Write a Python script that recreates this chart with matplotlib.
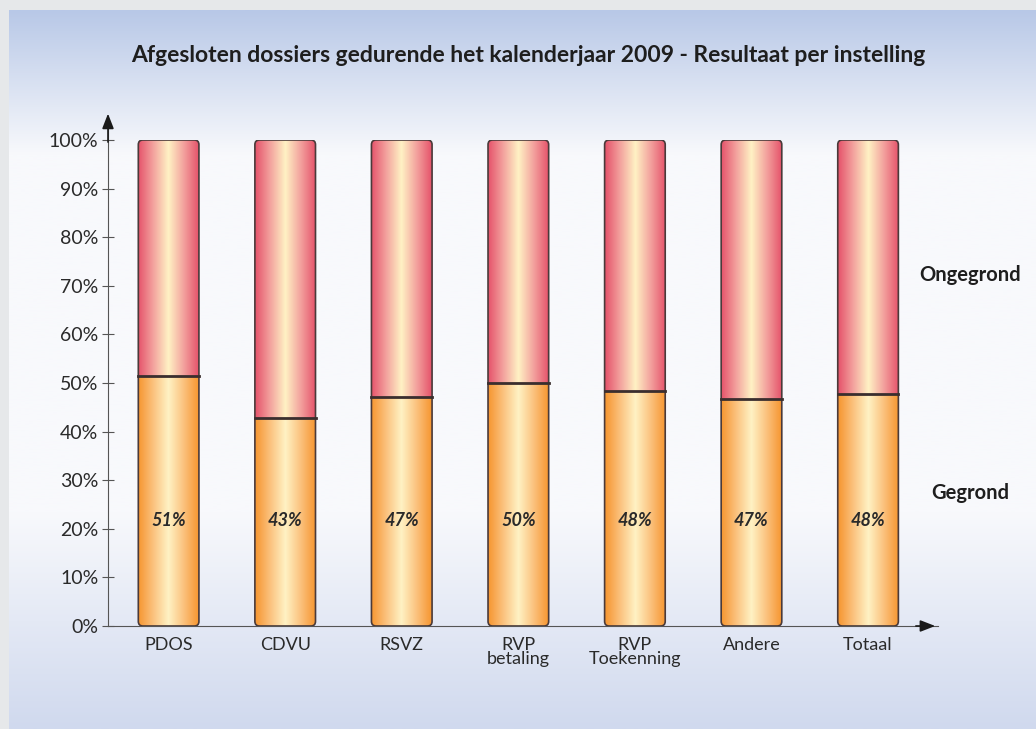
import numpy as np
import matplotlib.pyplot as plt
from matplotlib.patches import FancyBboxPatch
from matplotlib.colors import LinearSegmentedColormap

# data
categories = ["PDOS", "CDVU", "RSVZ", "RVP\nbetaling", "RVP\nToekenning", "Andere", "Totaal"]
gegrond = [51.4, 42.8, 47.1, 50.0, 48.4, 46.7, 47.7]
labels = ["51%", "43%", "47%", "50%", "48%", "47%", "48%"]
yticks = [0, 10, 20, 30, 40, 50, 60, 70, 80, 90, 100]

plt.rcParams['font.family'] = ['Lato', 'DejaVu Sans']

W, H = 1036, 729
fig = plt.figure(figsize=(W / 100, H / 100), dpi=100, facecolor="#e6e8ea")

# background panel with vertical gradient
bg = fig.add_axes([9 / W, 0, 1 - 9 / W, (H - 10) / H])
bg.set_axis_off()
top = np.array([0xb8, 0xc8, 0xe7]) / 255
mid = np.array([0xf8, 0xf9, 0xfc]) / 255
bot = np.array([0xd0, 0xd9, 0xee]) / 255
t = np.linspace(0, 1, 400)[:, None]
col = np.where(t < 0.2, top + (mid - top) * (t / 0.2),
               np.where(t < 0.7, mid, mid + (bot - mid) * ((t - 0.7) / 0.3)))
bg.imshow(col[:, None, :], aspect="auto", extent=[0, 1, 0, 1])
bg.set_xlim(0, 1)
bg.set_ylim(0, 1)

# main axes
x0, x1 = 108, 938
y0, y1 = 626, 140
ax = fig.add_axes([x0 / W, (H - y0) / H, (x1 - x0) / W, (y0 - y1) / H])
ax.patch.set_alpha(0)
n = len(categories)
xpos = np.arange(n)

orange = LinearSegmentedColormap.from_list(
    "o", ["#f6952f", "#fbc27e", "#fff2c4", "#fbc27e", "#f6952f"])
pink = LinearSegmentedColormap.from_list(
    "p", ["#e5526a", "#f3a29e", "#fff2c4", "#f3a29e", "#e5526a"])
grad = np.linspace(0, 1, 256)[None, :]

bw = 0.52
# px per data unit
pxx = (x1 - x0) / (n - 1 + 0.6 + 0.52)
pxy = (y0 - y1) / 100
aspect = pxx / pxy
for i, (xp, g) in enumerate(zip(xpos, gegrond)):
    box = FancyBboxPatch((xp - bw / 2, 0), bw, 100,
                         boxstyle="round,pad=0,rounding_size=0.04",
                         mutation_aspect=aspect,
                         facecolor="none", edgecolor="#4a3a3a", lw=1.2, zorder=4)
    ax.add_patch(box)
    im1 = ax.imshow(grad, cmap=orange, aspect="auto",
                    extent=[xp - bw / 2, xp + bw / 2, 0, g], zorder=2)
    im2 = ax.imshow(grad, cmap=pink, aspect="auto",
                    extent=[xp - bw / 2, xp + bw / 2, g, 100], zorder=2)
    im1.set_clip_path(box)
    im2.set_clip_path(box)
    ax.plot([xp - bw / 2, xp + bw / 2], [g, g], color="#3a2e2e", lw=2, zorder=5)
    ax.text(xp, 21.8, labels[i], ha="center", va="center", fontsize=13,
            fontstyle="italic", fontweight="bold", color="#2a2a2a", zorder=6)

ax.set_xlim(-0.52, n - 1 + 0.6)
ax.set_ylim(0, 100)

ax.set_xticks(xpos)
ax.set_xticklabels(categories, fontsize=13, color="#2a2a2a", linespacing=0.8)
ax.tick_params(axis="x", length=0, pad=8)
ax.set_yticks(yticks)
ax.set_yticklabels([f"{v}%" for v in yticks], fontsize=14, color="#2a2a2a")
ax.tick_params(axis="y", direction="inout", length=8, color="#555555", pad=3)

for s in ["top", "right"]:
    ax.spines[s].set_visible(False)
ax.spines["left"].set_color("#555555")
ax.spines["bottom"].set_color("#555555")
ax.spines["left"].set_bounds(0, 104)
ax.spines["left"].set_zorder(1)

# arrows
ax.annotate("", xy=(0, 1.06), xytext=(0, 0.99), xycoords="axes fraction",
            arrowprops=dict(arrowstyle="-|>,head_width=0.35,head_length=0.9",
                            color="#1a1a1a", lw=1.2))
ax.annotate("", xy=(1.0, 0), xytext=(0.97, 0), xycoords="axes fraction",
            arrowprops=dict(arrowstyle="-|>,head_width=0.35,head_length=0.9",
                            color="#1a1a1a", lw=1.2))

fig.text(528 / W, 1 - 56 / H,
         "Afgesloten dossiers gedurende het kalenderjaar 2009 - Resultaat per instelling",
         ha="center", va="center", fontsize=16.5, fontweight="bold", color="#1e1e1e")
fig.text(970 / W, 1 - 275 / H, "Ongegrond", ha="center", va="center",
         fontsize=14.5, fontweight="bold", color="#1e1e1e")
fig.text(970 / W, 1 - 493 / H, "Gegrond", ha="center", va="center",
         fontsize=14.5, fontweight="bold", color="#1e1e1e")

fig.savefig("out.png", dpi=100, facecolor=fig.get_facecolor())
